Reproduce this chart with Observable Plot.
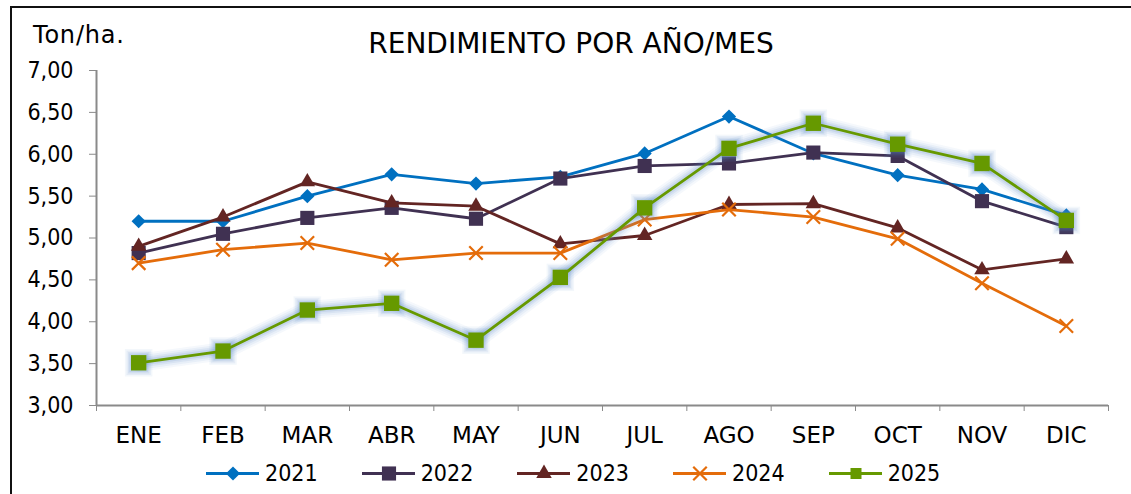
<!DOCTYPE html>
<html>
<head>
<meta charset="utf-8">
<script src="https://cdn.jsdelivr.net/npm/d3@7"></script>
<script src="https://cdn.jsdelivr.net/npm/@observablehq/plot@0.6"></script>
<style>
  html, body { margin: 0; padding: 0; background: #fff; }
  #wrap { position: relative; width: 1131px; height: 494px; overflow: hidden; background: #fff;
          font-family: "DejaVu Sans", sans-serif; }
  #frame { position: absolute; left: 10px; top: 6px; width: 1200px; height: 600px;
           border-left: 2px solid #111; border-top: 2px solid #111; }
  #title { position: absolute; left: 0; width: 1142px; top: 27px; text-align: center; font-size: 28px; color: #000; }
  #unit { position: absolute; left: 33px; top: 21px; font-size: 24px; letter-spacing: 0.8px; color: #000; }
  #chart { position: absolute; left: 0; top: 0; }
  #legend { position: absolute; left: 206px; top: 460px; display: flex; gap: 44px; font-size: 23px;
            font-family: "DejaVu Sans Condensed", "DejaVu Sans", sans-serif; }
  #legend .item { display: flex; align-items: center; gap: 6px; }
  #legend svg { display: block; }
</style>
</head>
<body>
<div id="wrap">
  <div id="frame"></div>
  <div id="chart"></div>
  <div id="title">RENDIMIENTO POR AÑO/MES</div>
  <div id="unit">Ton/ha.</div>
  <div id="legend"></div>
</div>
<script>
const months = ["ENE","FEB","MAR","ABR","MAY","JUN","JUL","AGO","SEP","OCT","NOV","DIC"];
const years = ["2021","2022","2023","2024","2025"];
const y2021 = [5.20, 5.20, 5.50, 5.76, 5.65, 5.73, 6.01, 6.45, 6.01, 5.75, 5.58, 5.27];
const y2022 = [4.82, 5.05, 5.24, 5.36, 5.23, 5.71, 5.86, 5.89, 6.02, 5.98, 5.44, 5.13];
const y2023 = [4.90, 5.25, 5.67, 5.42, 5.38, 4.93, 5.03, 5.40, 5.41, 5.12, 4.62, 4.75];
const y2024 = [4.70, 4.86, 4.94, 4.74, 4.82, 4.82, 5.22, 5.34, 5.25, 4.99, 4.46, 3.95];
const y2025 = [3.51, 3.65, 4.14, 4.22, 3.78, 4.53, 5.36, 6.07, 6.37, 6.12, 5.89, 5.21];
const yTicks = [3, 3.5, 4, 4.5, 5, 5.5, 6, 6.5, 7];

const seriesValues = [y2021, y2022, y2023, y2024, y2025];
const colors = ["#0070c0", "#403152", "#632523", "#e46c0a", "#669900"];
const symbols = ["diamond2", "square2", "triangle2", "times", "square2"];
const radii = [6.4, 9.0, 7.4, 6.2, 9.8];
const glowColor = "#5b8ac6";

const data = [];
years.forEach((yr, s) => seriesValues[s].forEach((v, i) => data.push({year: yr, s, i, v})));

const idx = d3.range(months.length);
const bounds = d3.range(months.length + 1).map(i => i - 0.5);
const fmt = d => d3.format(".2f")(d).replace(".", ",");
const axisGray = "#8a8a8a";

const marks = [
  Plot.ruleY([3], {stroke: axisGray, strokeWidth: 2}),
  Plot.ruleX([-0.5], {stroke: axisGray, strokeWidth: 2}),
  Plot.axisY(yTicks, {tickSize: 7, tickPadding: 16, tickFormat: fmt, stroke: axisGray, fill: "#000", fontSize: 23, label: null,
                      fontFamily: "'DejaVu Sans Condensed', 'DejaVu Sans', sans-serif"}),
  Plot.axisX(bounds, {tickSize: 6, tickFormat: () => "", stroke: axisGray, label: null}),
  Plot.axisX(idx, {tickSize: 0, tickPadding: 21, tickFormat: i => months[i], fill: "#000", fontSize: 23, label: null})
];
years.forEach((yr, s) => {
  const sd = data.filter(d => d.s === s);
  if (s === 4) {
    // soft blue glow behind the 2025 series
    [[18, 0.06], [14, 0.08], [10, 0.11], [6.5, 0.14]].forEach(([w, o]) => {
      marks.push(Plot.line(sd, {x: "i", y: "v", stroke: glowColor, strokeWidth: w, strokeOpacity: o, strokeLinejoin: "round", strokeLinecap: "round"}));
    });
    [[17.5, 0.07], [15.5, 0.09], [13.5, 0.12], [11.8, 0.15]].forEach(([r, o]) => {
      marks.push(Plot.dot(sd, {x: "i", y: "v", symbol: "square2", r, fill: glowColor, fillOpacity: o, stroke: "none"}));
    });
  }
  marks.push(Plot.line(sd, {x: "i", y: "v", stroke: colors[s], strokeWidth: 2.8}));
  if (symbols[s] === "times") {
    marks.push(Plot.dot(sd, {x: "i", y: "v", symbol: "times", r: radii[s], stroke: colors[s], strokeWidth: 2.2, fill: "none"}));
  } else {
    marks.push(Plot.dot(sd, {x: "i", y: "v", symbol: symbols[s], r: radii[s], fill: colors[s], stroke: "none"}));
  }
});

const chart = Plot.plot({
  width: 1131,
  height: 450,
  marginLeft: 96,
  marginRight: 23,
  marginTop: 70,
  marginBottom: 45,
  style: {fontFamily: "'DejaVu Sans', sans-serif", fontSize: "23px", background: "transparent", overflow: "visible"},
  x: {domain: [-0.5, 11.5], axis: null},
  y: {domain: [3, 7], axis: null},
  marks
});
document.getElementById("chart").appendChild(chart);

// legend
const legend = document.getElementById("legend");
years.forEach((yr, s) => {
  const item = document.createElement("div");
  item.className = "item";
  const sw = Plot.plot({
    width: 53, height: 22, margin: 0,
    x: {domain: [0, 1], axis: null}, y: {domain: [0, 1], axis: null},
    style: {background: "transparent", overflow: "visible"},
    marks: [
      Plot.ruleY([0.5], {stroke: colors[s], strokeWidth: 2.8}),
      symbols[s] === "times"
        ? Plot.dot([0.5], {x: d => d, y: 0.5, symbol: "times", r: radii[s], stroke: colors[s], strokeWidth: 2.2})
        : Plot.dot([0.5], {x: d => d, y: 0.5, symbol: symbols[s], r: s === 4 ? 7 : radii[s], fill: colors[s], stroke: "none"})
    ]
  });
  item.appendChild(sw);
  const t = document.createElement("span");
  t.textContent = yr;
  item.appendChild(t);
  legend.appendChild(item);
});
</script>
</body>
</html>
